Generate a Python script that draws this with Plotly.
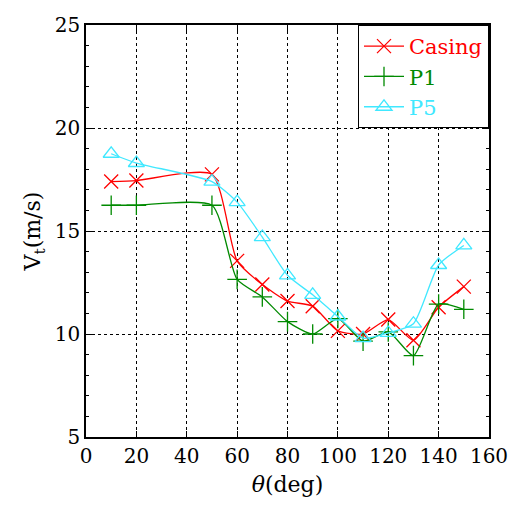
import plotly.graph_objects as go

theta = [10, 20, 50, 60, 70, 80, 90, 100, 110, 120, 130, 140, 150]
casing = [17.4, 17.45, 17.75, 13.55, 12.4, 11.6, 11.35, 10.15, 10.0, 10.7, 9.7, 11.3, 12.3]
p1 = [16.25, 16.25, 16.25, 12.65, 11.8, 10.6, 10.0, 10.75, 9.65, 10.1, 8.95, 11.45, 11.2]
p5 = [18.75, 18.3, 17.4, 16.4, 14.7, 12.85, 11.9, 10.85, 9.8, 10.05, 10.5, 13.35, 14.3]

names = ["Casing", "P1", "P5"]
colors = ["#ff0000", "#008a00", "#40e8ff"]
symbols = ["x-thin-open", "cross-thin-open", "triangle-up-open"]
series = [casing, p1, p5]

xticks = [0, 20, 40, 60, 80, 100, 120, 140, 160]
yticks = [5, 10, 15, 20, 25]

FONT = "DejaVu Serif"

fig = go.Figure()
for nm, col, sym, ys in zip(names, colors, symbols, series):
    fig.add_trace(go.Scatter(
        x=theta, y=ys, name='<span style="color:%s">%s</span>' % (col, nm),
        mode="lines+markers",
        line=dict(color=col, width=1.3, shape="spline", smoothing=0.6),
        marker=dict(symbol=sym, size=14, color=col, line=dict(color=col, width=1.3)),
    ))

axis_common = dict(
    showline=True, linecolor="black", linewidth=1.5, mirror="allticks",
    showgrid=True, gridcolor="black", gridwidth=1, griddash="dot",
    ticks="inside", ticklen=6, tickcolor="black",
    tickfont=dict(family=FONT, size=20, color="black"),
    zeroline=False,
)

fig.update_xaxes(
    range=[0, 160], tickvals=xticks, ticktext=[str(v) for v in xticks],
    title=dict(text="<i>θ</i>(deg)", font=dict(family=FONT, size=22, color="black"), standoff=10),
    **axis_common,
)
fig.update_yaxes(
    range=[5, 25], tickvals=yticks, ticktext=[str(v) for v in yticks],
    minor=dict(dtick=1, ticks="inside", ticklen=3, tickcolor="black", showgrid=False),
    title=dict(text="V<sub>t</sub>(m/s)", font=dict(family=FONT, size=22, color="black"), standoff=8),
    **axis_common,
)

fig.update_layout(
    width=520, height=506,
    margin=dict(l=86, r=21, t=25, b=69),
    paper_bgcolor="white", plot_bgcolor="white",
    showlegend=True,
    legend=dict(
        x=1, y=1, xanchor="right", yanchor="top",
        bgcolor="white", bordercolor="black", borderwidth=1,
        font=dict(family=FONT, size=21),
        itemwidth=40, tracegroupgap=0,
    ),
)

fig.write_html("out.html")
